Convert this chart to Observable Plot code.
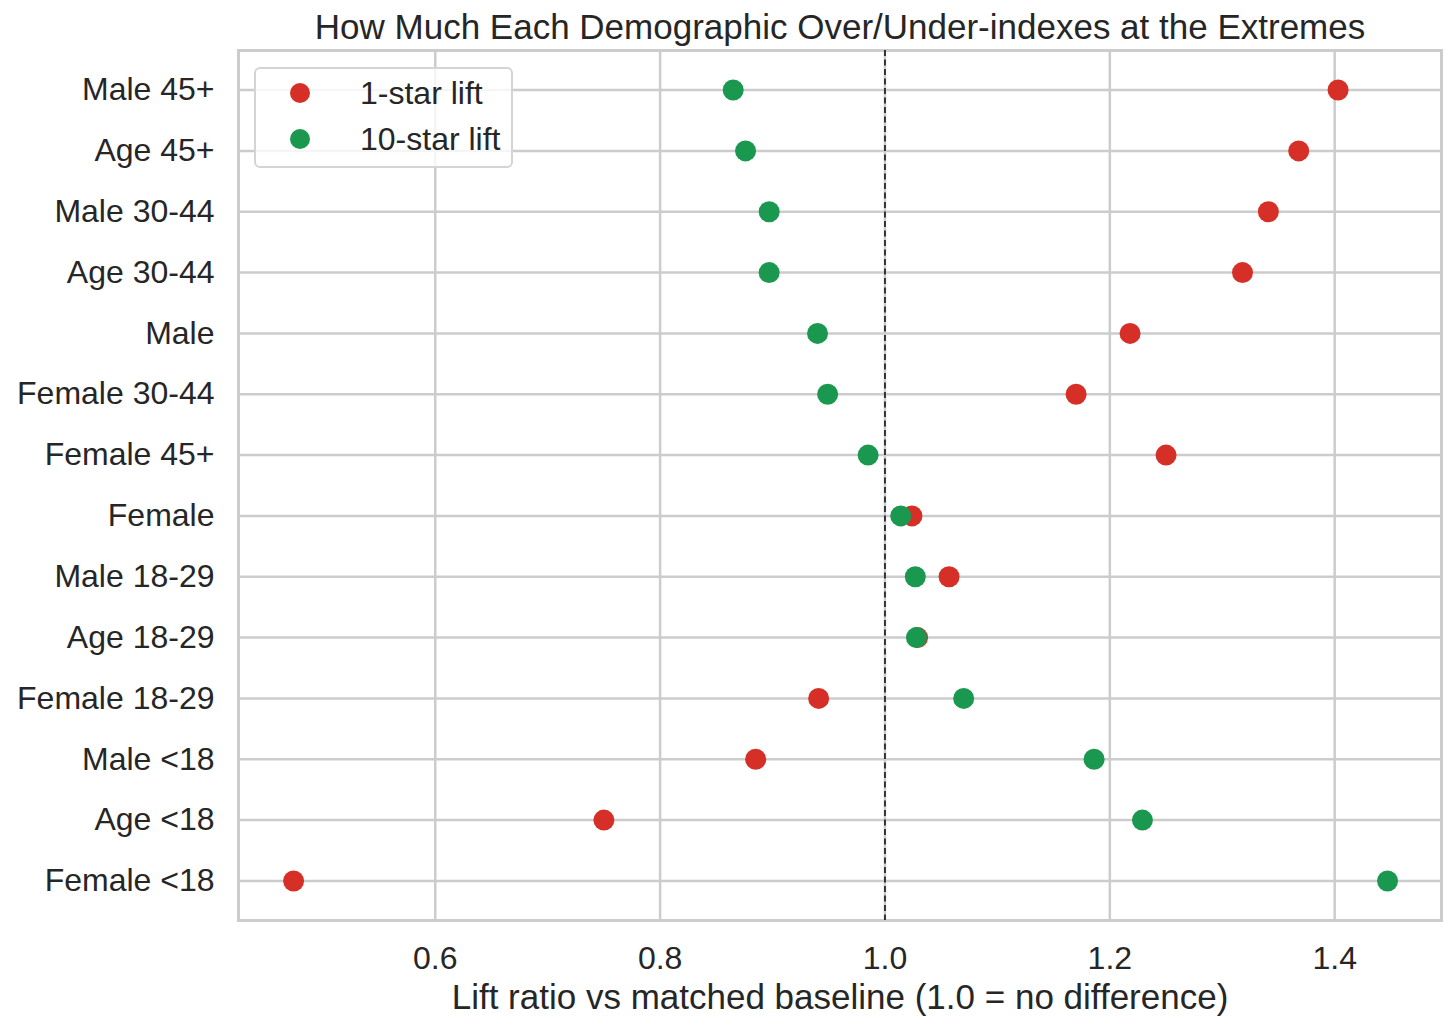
<!DOCTYPE html>
<html>
<head>
<meta charset="utf-8">
<script src="https://cdn.jsdelivr.net/npm/d3@7"></script>
<script src="https://cdn.jsdelivr.net/npm/@observablehq/plot@0.6"></script>
<style>
  html, body { margin: 0; padding: 0; background: #fff; }
  #wrap { position: relative; width: 1456px; height: 1028px; font-family: "Liberation Sans", Arial, sans-serif; color: #262626; }
  #legend { position: absolute; left: 254px; top: 67px; width: 255px; height: 97px; border: 2px solid #d4d4d4; border-radius: 6px; background: rgba(255,255,255,0.8); box-sizing: content-box; }
  .lrow { position: absolute; left: 0; height: 40px; display: flex; align-items: center; font-size: 32px; color: #262626; }
  .lrow span.dot { display: inline-block; width: 20px; height: 20px; border-radius: 50%; margin-left: 34px; margin-right: 50px; }
</style>
</head>
<body>
<div id="wrap"></div>
<script>
const categories = ["Male 45+", "Age 45+", "Male 30-44", "Age 30-44", "Male", "Female 30-44", "Female 45+", "Female", "Male 18-29", "Age 18-29", "Female 18-29", "Male <18", "Age <18", "Female <18"];
const oneStarLift = [1.403, 1.368, 1.341, 1.318, 1.218, 1.170, 1.250, 1.024, 1.057, 1.029, 0.941, 0.885, 0.750, 0.474];
const tenStarLift = [0.865, 0.876, 0.897, 0.897, 0.940, 0.949, 0.985, 1.014, 1.027, 1.028, 1.070, 1.186, 1.229, 1.447];
const seriesNames = ["1-star lift", "10-star lift"];
const seriesColors = ["#d62f27", "#1a9850"];
const xTicks = [0.6, 0.8, 1.0, 1.2, 1.4];
const baseline = 1.0;
const title = "How Much Each Demographic Over/Under-indexes at the Extremes";
const xLabel = "Lift ratio vs matched baseline (1.0 = no difference)";

const data = [
  ...categories.map((c, i) => ({category: c, series: seriesNames[0], value: oneStarLift[i]})),
  ...categories.map((c, i) => ({category: c, series: seriesNames[1], value: tenStarLift[i]}))
];

const textColor = "#262626";
const gridColor = "#cccccc";

const chart = Plot.plot({
  width: 1456,
  height: 1028,
  marginLeft: 238,
  marginRight: 15,
  marginTop: 50,
  marginBottom: 108,
  style: {fontFamily: "'Liberation Sans', Arial, sans-serif", background: "#fff", color: textColor},
  x: {domain: [0.425, 1.495], ticks: xTicks},
  y: {domain: categories, type: "point", padding: 0.65, round: false},
  color: {domain: seriesNames, range: seriesColors},
  marks: [
    Plot.ruleX(xTicks, {stroke: gridColor, strokeWidth: 2.5}),
    Plot.ruleY(categories, {y: d => d, stroke: gridColor, strokeWidth: 2.5}),
    Plot.frame({stroke: gridColor, strokeWidth: 3}),
    Plot.ruleX([baseline], {stroke: "#111", strokeWidth: 1.6, strokeDasharray: "6,3.5"}),
    Plot.dot(data, {x: "value", y: "category", fill: "series", r: 10.5, fillOpacity: 1}),
    Plot.axisX({ticks: xTicks, tickSize: 0, tickPadding: 26, fontSize: 32, tickFormat: d3.format(".1f"), label: null, fill: textColor}),
    Plot.axisY({tickSize: 0, tickPadding: 24, fontSize: 32, label: null, fill: textColor}),
    Plot.text([title], {frameAnchor: "top", lineAnchor: "middle", dy: -23, fontSize: 35, fill: textColor}),
    Plot.text([xLabel], {frameAnchor: "bottom", lineAnchor: "middle", dy: 77, fontSize: 35, fill: textColor})
  ]
});

const wrap = document.getElementById("wrap");
wrap.appendChild(chart);

const legend = document.createElement("div");
legend.id = "legend";
seriesNames.forEach((name, i) => {
  const row = document.createElement("div");
  row.className = "lrow";
  row.style.top = (4 + i * 46) + "px";
  const dot = document.createElement("span");
  dot.className = "dot";
  dot.style.background = seriesColors[i];
  row.appendChild(dot);
  row.appendChild(document.createTextNode(name));
  legend.appendChild(row);
});
wrap.appendChild(legend);
</script>
</body>
</html>
